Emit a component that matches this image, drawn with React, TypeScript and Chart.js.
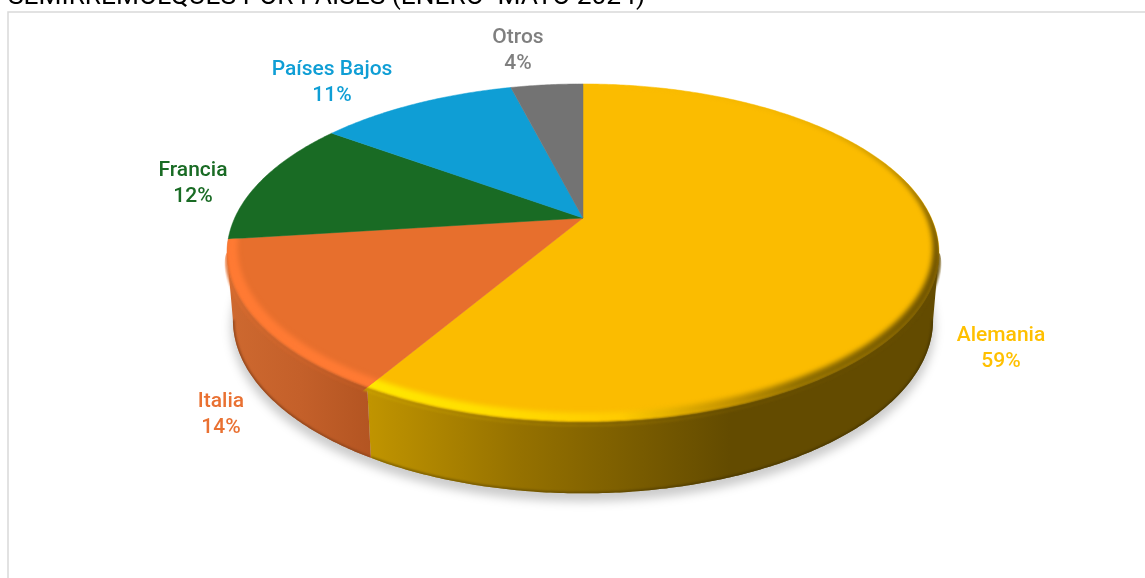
import React, { useEffect, useRef } from "react";
import { Chart, registerables } from "chart.js";

Chart.register(...registerables);

const categories = ["Alemania", "Italia", "Francia", "Países Bajos", "Otros"];
const shares = [58.5, 14.49, 12.01, 11, 4];
const sliceColors = ["#FBBC00", "#E76F2D", "#196B24", "#0F9ED5", "#737373"];
const labelColors = ["#FFC000", "#E97132", "#196B24", "#0F9ED5", "#7F7F7F"];
const labelCenters = [
  [1001, 336],
  [221, 402],
  [193, 171],
  [332, 70],
  [518, 38],
];
const titleText = "SEMIRREMOLQUES POR PAÍSES (ENERO- MAYO 2024)";

const CX = 583;
const TOP = { y0: 218, a: 348.3, b: 161.8, k: 0.207 };
const BOTTOM = { y0: 284, a: 342.5, b: 166, k: 0.207 };
const FONT = "Roboto";
const TANGENT = Math.asin(TOP.k);

type Plane = typeof TOP;

function project(plane: Plane, ang: number, r = 1): [number, number] {
  const X = r * Math.cos(ang);
  const Y = r * Math.sin(ang);
  const den = 1 - plane.k * Y;
  return [CX + (plane.a * X) / den, plane.y0 + (plane.b * Y) / den];
}

function angles(a0: number, a1: number) {
  const n = Math.max(2, Math.ceil(Math.abs(a1 - a0) / 0.01));
  const out: number[] = [];
  for (let i = 0; i <= n; i++) out.push(a0 + ((a1 - a0) * i) / n);
  return out;
}

function hGradient(ctx: CanvasRenderingContext2D, stops: [number, string][]) {
  const g = ctx.createLinearGradient(220, 0, 945, 0);
  for (const [x, c] of stops) g.addColorStop((x - 220) / 725, c);
  return g;
}

const wallStops: Record<number, [number, string][]> = {
  0: [
    [220, "#C09400"],
    [370, "#C09400"],
    [520, "#957100"],
    [730, "#634B00"],
    [945, "#634B00"],
  ],
  1: [
    [220, "#CF6A30"],
    [300, "#C4602A"],
    [375, "#B25421"],
    [945, "#B25421"],
  ],
};
const wallEdgeStops: Record<number, [number, string][]> = {
  0: [
    [220, "#8F6E00"],
    [500, "#705500"],
    [730, "#4A3800"],
    [945, "#4A3800"],
  ],
  1: [
    [220, "#8F451B"],
    [945, "#8F451B"],
  ],
};
const bandStops: Record<number, [number, string][]> = {
  0: [
    [220, "#FFE800"],
    [370, "#FFE800"],
    [480, "#FFDF00"],
    [620, "#FFCB00"],
    [720, "#C99700"],
    [800, "#8F6E00"],
    [945, "#6B5000"],
  ],
  1: [
    [220, "#FF7A33"],
    [945, "#FF7A33"],
  ],
};

function bandWidth(ang: number) {
  const X = Math.cos(ang);
  const Y = Math.sin(ang);
  const base = Y > 0 ? 0.012 + 0.024 * Y : Math.max(0, 0.012 * (1 + Y / 0.7));
  return base + (Y > -0.3 ? Math.max(0, -X) * 0.012 : 0);
}

function wallFade(ang: number) {
  return Math.sqrt(Math.max(0, (Math.sin(ang) - TOP.k) / (1 - TOP.k)));
}

function ring(
  ctx: CanvasRenderingContext2D,
  a0: number,
  a1: number,
  outer: (a: number) => number,
  inner: (a: number) => number
) {
  const as = angles(a0, a1);
  ctx.beginPath();
  as.forEach((a) => ctx.lineTo(...project(TOP, a, outer(a))));
  as.slice().reverse().forEach((a) => ctx.lineTo(...project(TOP, a, inner(a))));
  ctx.closePath();
  ctx.fill();
}

const pie3d = {
  id: "pie3d",
  beforeDatasetDraw() {
    return false;
  },
  beforeDatasetsDraw(chart: any) {
    const ctx: CanvasRenderingContext2D = chart.ctx;
    const arcs = chart.getDatasetMeta(0).data;
    const range = arcs.map((el: any) => {
      const p = el.getProps(["startAngle", "endAngle"], true);
      return [p.startAngle, p.endAngle];
    });

    // soft shadow under the disc
    ctx.save();
    ctx.filter = "blur(5px)";
    ctx.fillStyle = "rgba(0,0,0,0.2)";
    ctx.beginPath();
    angles(0, Math.PI * 2).forEach((a) => {
      const [x, y] = project(BOTTOM, a, 1.005);
      ctx.lineTo(x, y + 7);
    });
    ctx.closePath();
    ctx.fill();
    ctx.restore();

    // side walls of the slices facing the viewer
    arcs.forEach((_: any, i: number) => {
      if (!wallStops[i]) return;
      const from = Math.max(range[i][0], TANGENT);
      const to = Math.min(range[i][1], Math.PI - TANGENT);
      if (to <= from) return;
      const as = angles(from, to);
      ctx.save();
      ctx.beginPath();
      as.forEach((a) => ctx.lineTo(...project(TOP, a)));
      as.slice().reverse().forEach((a) => ctx.lineTo(...project(BOTTOM, a)));
      ctx.closePath();
      ctx.fillStyle = hGradient(ctx, wallStops[i]);
      ctx.fill();
      ctx.clip();
      ctx.filter = "blur(1px)";
      ctx.beginPath();
      as.forEach((a) => ctx.lineTo(...project(BOTTOM, a)));
      ctx.strokeStyle = hGradient(ctx, wallEdgeStops[i]);
      ctx.lineWidth = 3;
      ctx.stroke();
      ctx.restore();
    });

    // flat top surface
    arcs.forEach((el: any, i: number) => {
      const [a0, a1] = range[i];
      const path = new Path2D();
      path.moveTo(CX, TOP.y0);
      angles(a0, a1).forEach((a) => path.lineTo(...project(TOP, a)));
      path.closePath();
      ctx.save();
      ctx.fillStyle = el.options.backgroundColor;
      ctx.strokeStyle = el.options.backgroundColor;
      ctx.lineWidth = 0.5;
      ctx.fill(path);
      ctx.stroke(path);
      ctx.restore();
    });

    // bevel along the rim: it melts into the wall below it
    arcs.forEach((_: any, i: number) => {
      if (!bandStops[i]) return;
      const [a0, a1] = range[i];
      const wedge = new Path2D();
      wedge.moveTo(CX, TOP.y0);
      angles(a0, a1).forEach((a) => wedge.lineTo(...project(TOP, a, 1 + 0.03 * wallFade(a))));
      wedge.closePath();
      const wide0 = a0 - 0.04;
      const wide1 = a1 + 0.04;
      ctx.save();
      ctx.clip(wedge);
      ctx.filter = "blur(2.4px)";
      ctx.fillStyle = hGradient(ctx, bandStops[i]);
      ring(ctx, wide0, wide1, () => 1.004, (a) => 1 - bandWidth(a));
      ctx.filter = "blur(1.2px)";
      if (wallStops[i]) {
        const from = Math.max(wide0, TANGENT);
        const to = Math.min(wide1, Math.PI - TANGENT);
        ctx.fillStyle = hGradient(ctx, wallStops[i]);
        ring(ctx, from, to, (a) => 1 + 0.014 * wallFade(a), () => 1.0);
      }
      ctx.restore();
    });
  },
  afterDraw(chart: any) {
    const ctx: CanvasRenderingContext2D = chart.ctx;
    const data: number[] = chart.data.datasets[0].data;
    const total = data.reduce((s, v) => s + v, 0);
    ctx.save();

    ctx.strokeStyle = "#D9D9D9";
    ctx.lineWidth = 1.5;
    ctx.beginPath();
    ctx.moveTo(8, 578);
    ctx.lineTo(8, 12);
    ctx.lineTo(1145, 12);
    ctx.stroke();

    ctx.fillStyle = "#000000";
    ctx.textAlign = "left";
    ctx.textBaseline = "alphabetic";
    ctx.font = `400 26.3px ${FONT}`;
    ctx.fillText(titleText, 8, 4);

    ctx.textAlign = "center";
    ctx.textBaseline = "middle";
    ctx.font = `500 21px ${FONT}`;
    chart.data.labels.forEach((name: string, i: number) => {
      const [x, y] = labelCenters[i];
      ctx.fillStyle = labelColors[i];
      ctx.fillText(name, x, y);
      ctx.fillText(`${Math.round((data[i] / total) * 100)}%`, x, y + 25.5);
    });
    ctx.restore();
  },
};

export default function App() {
  const ref = useRef<HTMLCanvasElement>(null);
  useEffect(() => {
    document.body.style.margin = "0";
    document.body.style.overflow = "hidden";
    const chart = new Chart(ref.current!, {
      type: "pie",
      data: {
        labels: categories,
        datasets: [{ data: shares, backgroundColor: sliceColors, borderWidth: 0 }],
      },
      options: {
        responsive: false,
        animation: false,
        plugins: { legend: { display: false }, tooltip: { enabled: false } },
      },
      plugins: [pie3d],
    } as any);
    return () => chart.destroy();
  }, []);
  return (
    <div style={{ width: 1145, height: 578, background: "#fff" }}>
      <canvas ref={ref} width={1145} height={578} style={{ display: "block" }} />
    </div>
  );
}
